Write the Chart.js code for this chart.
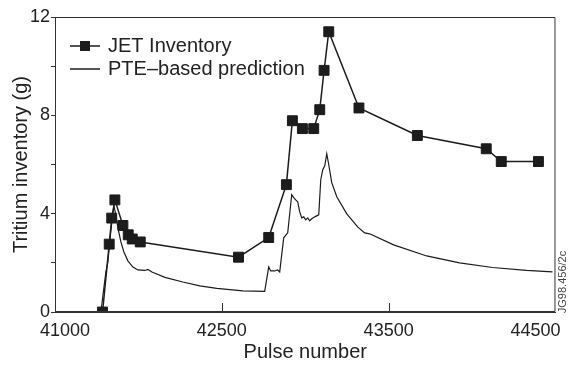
<!DOCTYPE html>
<html>
<head>
<meta charset="utf-8">
<script src="https://cdn.jsdelivr.net/npm/chart.js@4.4.0/dist/chart.umd.min.js"></script>
<style>
  html, body { margin: 0; padding: 0; background: #fff; }
  canvas { display: block; }
</style>
</head>
<body>
<canvas id="chart" width="569" height="365"></canvas>
<script>
// JET measured tritium inventory (g) against pulse number
var jet_pulse = [41785, 41825, 41840, 41859, 41907, 41939, 41963, 42011, 42600, 42781, 42887,
  42923, 42983, 43051, 43087, 43113, 43141, 43322, 43672, 44085, 44175, 44398];
var jet_inventory = [0, 2.76, 3.82, 4.56, 3.52, 3.14, 2.97, 2.85, 2.23, 3.03, 5.18,
  7.78, 7.46, 7.46, 8.23, 9.83, 11.40, 8.30, 7.18, 6.64, 6.12, 6.12];

// PTE-based prediction
var pte_pulse = [41775, 41805, 41817, 41829, 41841, 41853, 41865, 41877, 41895, 41913, 41937,
  41967, 41997, 42039, 42057, 42081, 42159, 42266, 42368, 42470, 42626, 42757, 42781, 42793,
  42817, 42835, 42847, 42871, 42895, 42919, 42931, 42943, 42955, 42967, 42979, 42991, 43003,
  43015, 43027, 43039, 43057, 43081, 43093, 43105, 43117, 43129, 43141, 43159, 43189, 43249,
  43314, 43356, 43386, 43530, 43728, 43925, 44123, 44326, 44482];
var pte_inventory = [0, 1.63, 2.04, 2.93, 3.67, 4.32, 3.95, 3.42, 2.85, 2.44, 2.08,
  1.83, 1.71, 1.69, 1.73, 1.63, 1.41, 1.22, 1.06, 0.96, 0.86, 0.84, 1.83, 1.67,
  1.67, 1.71, 1.63, 3.02, 3.22, 4.77, 4.65, 4.56, 4.48, 4.07, 3.83, 3.87, 3.75,
  3.83, 3.71, 3.79, 3.87, 3.95, 5.38, 5.79, 5.95, 6.44, 5.99, 5.26, 4.69, 3.99,
  3.46, 3.22, 3.18, 2.73, 2.28, 2.00, 1.81, 1.69, 1.63];

// x tick labels as printed on the figure, and where they sit
var x_label_pos = [41560, 42500, 43500, 44380];
var x_labels = ["41000", "42500", "43500", "44500"];
var x_marks = [42500, 43500];

var ink = "#1c1c1c";
var font_family = "'Liberation Sans', Arial, sans-serif";
Chart.defaults.font.family = font_family;
Chart.defaults.color = "#222";

function to_points(xs, ys) {
  return xs.map(function (x, i) { return { x: x, y: ys[i] }; });
}

// frame, inward x ticks, legend and the figure tag
var extras = {
  id: "extras",
  afterDraw: function (chart) {
    var ctx = chart.ctx;
    var a = chart.chartArea;
    var xs = chart.scales.x;
    ctx.save();
    ctx.strokeStyle = "#333";
    ctx.lineWidth = 1;
    ctx.beginPath();
    ctx.rect(a.left + 0.5, a.top + 0.5, a.right - a.left - 1, a.bottom - a.top - 1);
    x_marks.forEach(function (v) {
      var px = Math.round(xs.getPixelForValue(v)) + 0.5;
      ctx.moveTo(px, a.bottom);
      ctx.lineTo(px, a.bottom - 9);
    });
    ctx.stroke();

    // legend
    var ds = chart.data.datasets;
    ctx.font = "20px " + font_family;
    ctx.textBaseline = "middle";
    ds.forEach(function (d, i) {
      var y = 46 + i * 23;
      ctx.strokeStyle = ink;
      ctx.lineWidth = 1.5;
      ctx.beginPath();
      ctx.moveTo(70, y);
      ctx.lineTo(100, y);
      ctx.stroke();
      if (d.pointRadius > 0) {
        ctx.fillStyle = ink;
        ctx.fillRect(80, y - 5, 10, 10);
      }
      ctx.fillStyle = "#222";
      ctx.fillText(d.label, 108, y);
    });

    // figure tag
    ctx.translate(563, 282);
    ctx.rotate(-Math.PI / 2);
    ctx.font = "11px " + font_family;
    ctx.textAlign = "center";
    ctx.fillStyle = "#444";
    ctx.fillText("JG98.456/2c", 0, 0);
    ctx.restore();
  }
};

new Chart(document.getElementById("chart"), {
  type: "line",
  data: {
    datasets: [{
      label: "JET Inventory",
      data: to_points(jet_pulse, jet_inventory),
      borderColor: ink,
      backgroundColor: ink,
      borderWidth: 1.5,
      pointStyle: "rect",
      pointRadius: 7,
      pointBorderWidth: 1,
      tension: 0
    }, {
      label: "PTE\u2013based prediction",
      data: to_points(pte_pulse, pte_inventory),
      borderColor: ink,
      borderWidth: 1.2,
      pointRadius: 0,
      tension: 0
    }]
  },
  options: {
    responsive: false,
    animation: false,
    devicePixelRatio: 1,
    layout: { padding: { top: 17, right: 13 } },
    plugins: {
      legend: { display: false },
      tooltip: { enabled: false }
    },
    scales: {
      x: {
        type: "linear",
        min: 41500,
        max: 44500,
        afterFit: function (scale) { scale.height = 53; },
        afterBuildTicks: function (scale) {
          scale.ticks = x_label_pos.map(function (v) { return { value: v }; });
        },
        ticks: {
          autoSkip: false,
          maxRotation: 0,
          padding: 8,
          font: { size: 18 },
          callback: function (value, index) { return x_labels[index]; }
        },
        grid: { drawOnChartArea: false, drawTicks: false },
        border: { color: "#333" },
        title: {
          display: true,
          text: "Pulse number",
          font: { size: 20 },
          padding: { top: 0, bottom: 1 }
        }
      },
      y: {
        min: 0,
        max: 12,
        afterFit: function (scale) { scale.width = 55; },
        ticks: {
          stepSize: 2,
          padding: 1,
          font: { size: 18 },
          callback: function (value) { return value % 4 === 0 ? value : ""; }
        },
        grid: { drawOnChartArea: false, tickLength: 4, tickColor: "#333" },
        border: { color: "#333" },
        title: {
          display: true,
          text: "Tritium inventory (g)",
          font: { size: 20 },
          padding: { top: 9, bottom: 0 }
        }
      }
    }
  },
  plugins: [extras]
});
</script>
</body>
</html>
